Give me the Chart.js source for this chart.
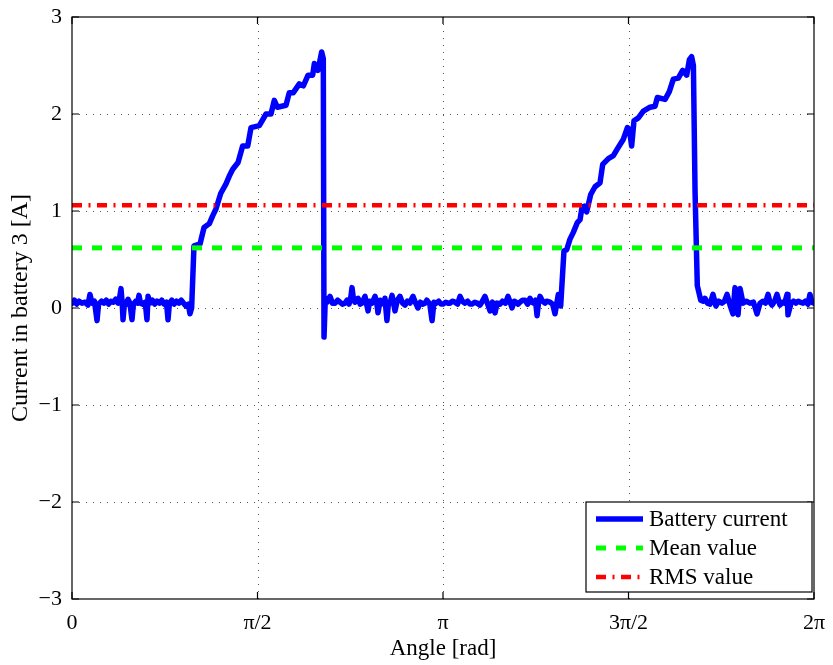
<!DOCTYPE html>
<html>
<head>
<meta charset="utf-8">
<script src="https://cdn.jsdelivr.net/npm/chart.js@4.4.1/dist/chart.umd.min.js"></script>
<style>
  body { margin: 0; background: #fff; }
  canvas { display: block; }
</style>
</head>
<body>
<canvas id="batteryChart" width="833" height="665"></canvas>
<script>
// angle [rad] of each sample
var angle = [
  // off, first half
  0, 0.02, 0.04, 0.06, 0.085, 0.11, 0.135, 0.152, 0.17, 0.19, 0.212, 0.225,
  0.25, 0.27, 0.29, 0.31, 0.33, 0.35, 0.37, 0.39, 0.405, 0.415, 0.425, 0.432,
  0.445, 0.46, 0.475, 0.49, 0.508, 0.52, 0.54, 0.555, 0.567, 0.58, 0.60, 0.62,
  0.635, 0.644, 0.66, 0.68, 0.70, 0.72, 0.74, 0.76, 0.78, 0.80, 0.813, 0.825,
  0.845, 0.865, 0.885, 0.905, 0.925, 0.945, 0.965, 0.985, 0.999, 1.013,
  // first charging ramp
  1.033, 1.084, 1.118, 1.163, 1.191, 1.219, 1.259, 1.304, 1.332, 1.361, 1.406, 1.445,
  1.488, 1.516, 1.586, 1.643, 1.685, 1.713, 1.739, 1.812, 1.840, 1.874, 1.925, 1.959,
  1.999, 2.038, 2.052, 2.083, 2.114, 2.128, 2.134, 2.145,
  // off, second half
  2.160, 2.185, 2.205, 2.227, 2.250, 2.269, 2.290, 2.312, 2.330, 2.346, 2.362, 2.371,
  2.385, 2.396, 2.410, 2.422, 2.440, 2.456, 2.470, 2.481, 2.495, 2.507, 2.520, 2.540,
  2.555, 2.566, 2.580, 2.591, 2.610, 2.625, 2.640, 2.650, 2.667, 2.680, 2.693, 2.710,
  2.722, 2.735, 2.755, 2.777, 2.800, 2.820, 2.840, 2.862, 2.875, 2.888, 2.910, 2.930,
  2.950, 2.970, 2.989, 3.005, 3.030, 3.049, 3.065, 3.082, 3.105, 3.125, 3.142, 3.165,
  3.185, 3.201, 3.220, 3.243, 3.265, 3.286, 3.305, 3.328, 3.350, 3.370, 3.387, 3.410,
  3.430, 3.455, 3.475, 3.497, 3.520, 3.540, 3.560, 3.582, 3.600, 3.624, 3.645, 3.670,
  3.692, 3.710, 3.726, 3.745, 3.760, 3.778, 3.794, 3.815, 3.836, 3.858, 3.878, 3.895,
  3.912, 3.925, 3.938, 3.950, 3.963, 3.985, 4.005, 4.019, 4.048, 4.070, 4.090, 4.118,
  4.138,
  // second charging ramp
  4.166, 4.189, 4.217, 4.245, 4.279, 4.302, 4.319, 4.338, 4.358, 4.392, 4.429, 4.471,
  4.494, 4.542, 4.584, 4.618, 4.669, 4.703, 4.720, 4.739, 4.759, 4.796, 4.838, 4.895,
  4.937, 4.957, 5.022, 5.058, 5.092, 5.134, 5.171, 5.205, 5.228, 5.247, 5.262, 5.276,
  5.295, 5.324,
  // off, end
  5.345, 5.360, 5.380, 5.403, 5.428, 5.453, 5.475, 5.504, 5.525, 5.547, 5.572, 5.597,
  5.614, 5.627, 5.640, 5.657, 5.682, 5.710, 5.741, 5.770, 5.801, 5.826, 5.850, 5.872,
  5.894, 5.910, 5.928, 5.950, 5.970, 5.995, 6.015, 6.035, 6.055, 6.063, 6.089, 6.110,
  6.130, 6.150, 6.165, 6.190, 6.210, 6.232, 6.249, 6.265, 6.283
];
// battery current [A] at those angles
var current = [
  0.05, 0.08, 0.04, 0.07, 0.05, 0.06, 0.03, 0.14, 0.05, 0.07, -0.13, 0.04,
  0.07, 0.05, 0.08, 0.04, 0.07, 0.06, 0.09, 0.05, 0.12, 0.20, 0.05, -0.12,
  0.06, 0.04, 0.09, 0.05, -0.12, 0.04, 0.07, 0.05, 0.13, 0.05, 0.04, 0.06,
  -0.12, 0.12, 0.05, 0.08, 0.04, 0.07, 0.05, 0.08, 0.04, 0.06, -0.12, 0.05,
  0.08, 0.04, 0.07, 0.05, 0.08, 0.05, 0.02, 0.04, -0.06, 0.00,
  0.64, 0.66, 0.83, 0.87, 0.95, 1.02, 1.18, 1.28, 1.36, 1.43, 1.50, 1.67,
  1.67, 1.86, 1.88, 2.00, 2.00, 2.14, 2.07, 2.09, 2.22, 2.22, 2.31, 2.29,
  2.40, 2.40, 2.52, 2.45, 2.64, 2.57, -0.30, 0.10,
  0.06, 0.12, 0.05, 0.05, 0.08, 0.06, 0.04, 0.05, 0.08, 0.04, 0.12, 0.21,
  0.08, 0.06, 0.09, 0.10, 0.04, 0.05, 0.09, 0.12, 0.04, -0.03, 0.07, 0.05,
  0.09, 0.12, 0.06, -0.05, 0.08, 0.06, 0.04, 0.10, -0.13, 0.06, 0.05, 0.13,
  0.06, -0.03, 0.08, 0.12, 0.05, 0.03, 0.07, 0.05, 0.09, 0.12, 0.05, 0.00,
  0.06, 0.04, 0.05, 0.08, 0.04, -0.13, 0.06, 0.05, 0.07, 0.04, 0.04, 0.06,
  0.05, 0.05, 0.07, 0.06, 0.04, 0.12, 0.07, 0.05, 0.07, 0.04, 0.04, 0.06,
  0.05, 0.03, 0.07, 0.12, 0.04, -0.03, 0.06, -0.05, 0.05, 0.04, 0.07, 0.05,
  0.12, 0.06, 0.00, 0.07, 0.06, 0.04, 0.06, 0.08, 0.08, 0.04, 0.10, 0.06,
  0.05, 0.08, -0.08, 0.05, 0.12, 0.07, 0.05, 0.07, 0.06, 0.04, -0.06, 0.14,
  0.02,
  0.59, 0.60, 0.71, 0.78, 0.88, 0.91, 1.04, 1.05, 0.99, 1.17, 1.25, 1.29,
  1.48, 1.54, 1.57, 1.64, 1.74, 1.86, 1.84, 1.67, 1.93, 1.96, 2.03, 2.07,
  2.08, 2.17, 2.15, 2.23, 2.36, 2.37, 2.45, 2.40, 2.56, 2.59, 2.50, 1.20,
  0.23, 0.08,
  0.07, 0.10, 0.05, 0.04, 0.14, 0.02, 0.07, 0.05, 0.07, 0.14, 0.03, -0.06,
  0.21, 0.08, -0.07, 0.20, 0.05, 0.07, 0.05, 0.06, -0.06, 0.05, 0.07, 0.05,
  0.14, 0.06, 0.03, 0.07, 0.14, 0.03, 0.06, 0.05, 0.14, -0.07, 0.05, 0.07,
  0.05, 0.07, 0.06, 0.05, 0.07, 0.04, 0.14, 0.06, 0.05
];
var meanValue = 0.62;
var rmsValue = 1.06;

var xTickValues = [0, Math.PI / 2, Math.PI, 3 * Math.PI / 2, 2 * Math.PI];
var xTickLabels = ['0', '\u03c0/2', '\u03c0', '3\u03c0/2', '2\u03c0'];
var seriesLabels = ['Battery current', 'Mean value', 'RMS value'];

var serif = '"Liberation Serif", "Times New Roman", serif';

var batteryPoints = angle.map(function (a, i) { return { x: a, y: current[i] }; });
var meanPoints = [{ x: 0, y: meanValue }, { x: 2 * Math.PI, y: meanValue }];
var rmsPoints = [{ x: 0, y: rmsValue }, { x: 2 * Math.PI, y: rmsValue }];

// box, inward ticks and legend in the matlab look
var matlabFrame = {
  id: 'matlabFrame',
  beforeDatasetsDraw: function (chart) {
    var ctx = chart.ctx, a = chart.chartArea;
    var xs = chart.scales.x, ys = chart.scales.y;
    ctx.save();
    ctx.strokeStyle = '#555';
    ctx.lineWidth = 1;
    ctx.setLineDash([1, 6]);
    xTickValues.forEach(function (v, i) {
      if (i === 0 || i === xTickValues.length - 1) return;
      var px = Math.round(xs.getPixelForValue(v)) + 0.5;
      ctx.beginPath(); ctx.moveTo(px, a.top); ctx.lineTo(px, a.bottom); ctx.stroke();
    });
    ys.ticks.forEach(function (t) {
      if (t.value === ys.min || t.value === ys.max) return;
      var py = Math.round(ys.getPixelForValue(t.value)) + 0.5;
      ctx.beginPath(); ctx.moveTo(a.left, py); ctx.lineTo(a.right, py); ctx.stroke();
    });
    ctx.restore();
  },
  afterDraw: function (chart) {
    var ctx = chart.ctx, a = chart.chartArea;
    var xs = chart.scales.x, ys = chart.scales.y;
    ctx.save();
    ctx.strokeStyle = '#000';
    ctx.lineWidth = 1.2;
    ctx.setLineDash([]);
    ctx.strokeRect(a.left, a.top, a.right - a.left, a.bottom - a.top);
    var tl = 7;
    ctx.beginPath();
    xTickValues.forEach(function (v) {
      var px = xs.getPixelForValue(v);
      ctx.moveTo(px, a.bottom); ctx.lineTo(px, a.bottom - tl);
      ctx.moveTo(px, a.top); ctx.lineTo(px, a.top + tl);
    });
    ys.ticks.forEach(function (t) {
      var py = ys.getPixelForValue(t.value);
      ctx.moveTo(a.left, py); ctx.lineTo(a.left + tl, py);
      ctx.moveTo(a.right, py); ctx.lineTo(a.right - tl, py);
    });
    ctx.stroke();

    // legend
    var w = 226, h = 90;
    var lx = a.right - 2 - w, ly = a.bottom - 7 - h;
    ctx.fillStyle = '#fff';
    ctx.fillRect(lx, ly, w, h);
    ctx.lineWidth = 1.2;
    ctx.strokeRect(lx, ly, w, h);
    ctx.font = '23px ' + serif;
    ctx.textBaseline = 'middle';
    ctx.textAlign = 'left';
    chart.data.datasets.forEach(function (ds, i) {
      var ry = ly + 17 + i * 29;
      ctx.strokeStyle = ds.borderColor;
      ctx.lineWidth = ds.borderWidth;
      ctx.setLineDash(ds.borderDash || []);
      ctx.beginPath(); ctx.moveTo(lx + 10, ry); ctx.lineTo(lx + 57, ry); ctx.stroke();
      ctx.setLineDash([]);
      ctx.fillStyle = '#000';
      ctx.fillText(ds.label, lx + 63, ry + 1);
    });
    ctx.restore();
  }
};

new Chart(document.getElementById('batteryChart'), {
  type: 'line',
  data: {
    datasets: [
      {
        label: seriesLabels[0],
        data: batteryPoints,
        borderColor: '#0000ff',
        borderWidth: 5.5,
        borderJoinStyle: 'round',
        borderCapStyle: 'round',
        pointRadius: 0,
        tension: 0,
        order: 3
      },
      {
        label: seriesLabels[1],
        data: meanPoints,
        borderColor: '#00ff00',
        borderWidth: 5,
        borderDash: [10, 10],
        pointRadius: 0,
        order: 2
      },
      {
        label: seriesLabels[2],
        data: rmsPoints,
        borderColor: '#ff0000',
        borderWidth: 4.5,
        borderDash: [10, 6.5, 2, 6.5],
        pointRadius: 0,
        order: 1
      }
    ]
  },
  options: {
    responsive: false,
    animation: false,
    layout: { padding: { top: 17, right: 19, left: 0, bottom: 0 } },
    plugins: {
      legend: { display: false },
      tooltip: { enabled: false }
    },
    scales: {
      x: {
        type: 'linear',
        min: 0,
        max: 2 * Math.PI,
        afterBuildTicks: function (scale) {
          scale.ticks = xTickValues.map(function (v) { return { value: v }; });
        },
        afterFit: function (scale) { scale.height = 66; },
        grid: { display: false },
        border: { display: false },
        ticks: {
          autoSkip: false,
          maxRotation: 0,
          padding: 3,
          color: '#000',
          font: { family: serif, size: 22 },
          callback: function (v, i) { return xTickLabels[i]; }
        },
        title: {
          display: true,
          text: 'Angle [rad]',
          color: '#000',
          font: { family: serif, size: 23 },
          padding: { top: 0, bottom: 2 }
        }
      },
      y: {
        min: -3,
        max: 3,
        afterFit: function (scale) { scale.width = 72; },
        grid: { display: false },
        border: { display: false },
        ticks: {
          stepSize: 1,
          padding: 2,
          color: '#000',
          font: { family: serif, size: 22 },
          callback: function (v) { return v < 0 ? '\u2212' + Math.abs(v) : String(v); }
        },
        title: {
          display: true,
          text: 'Current in battery 3 [A]',
          color: '#000',
          font: { family: serif, size: 24 },
          padding: { top: 6, bottom: 0 }
        }
      }
    }
  },
  plugins: [matlabFrame]
});
</script>
</body>
</html>
